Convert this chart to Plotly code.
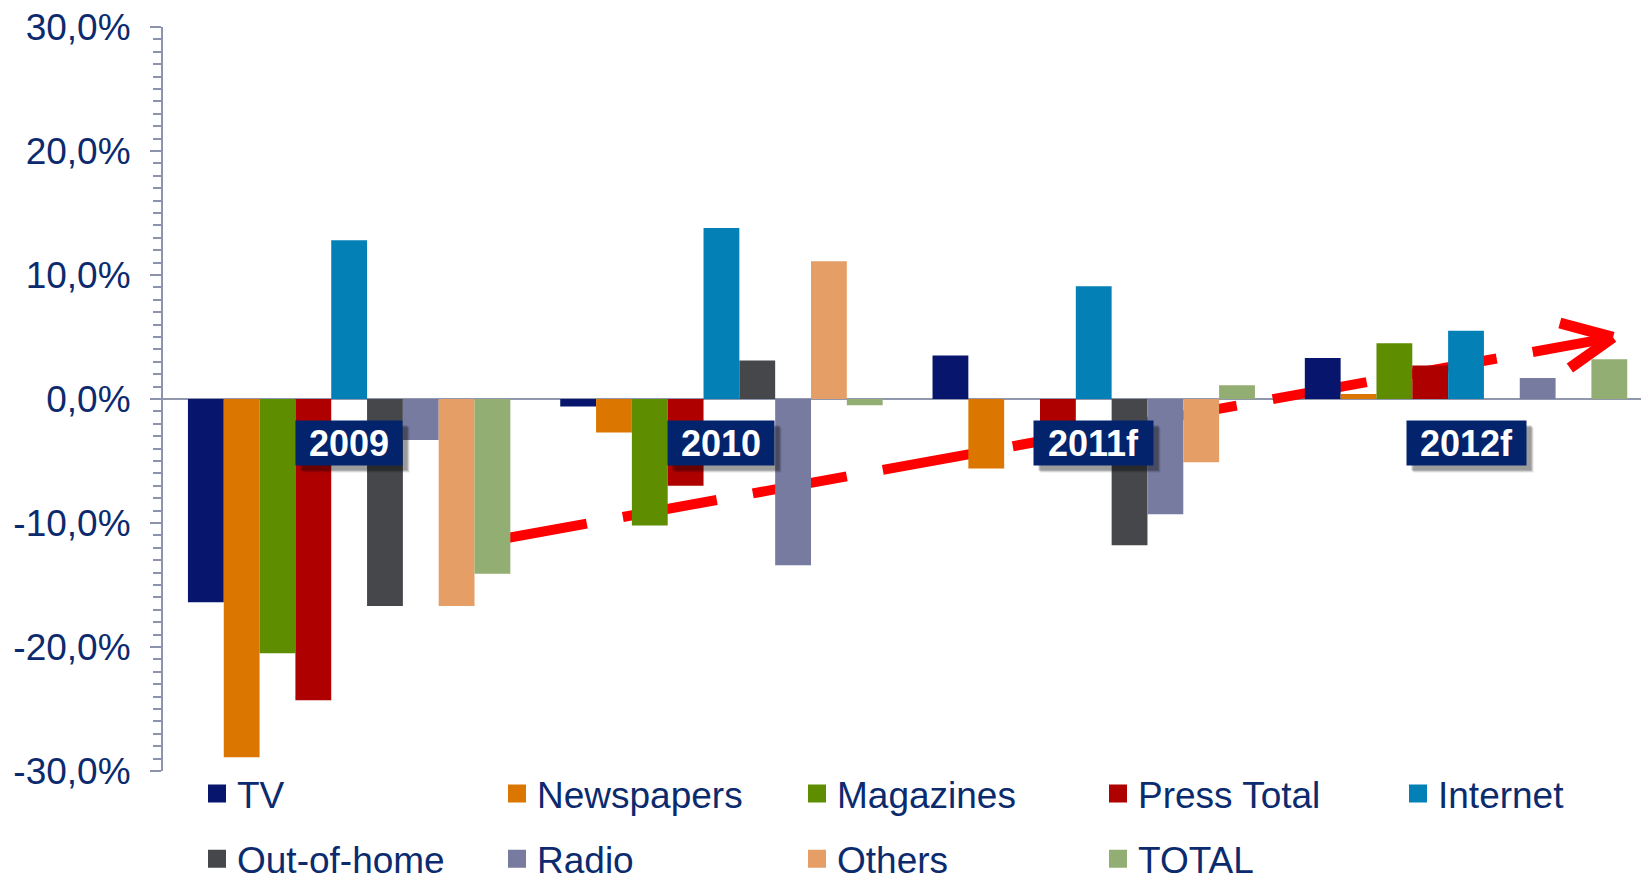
import plotly.graph_objects as go

# ---------------- data ----------------
years = ["2009", "2010", "2011f", "2012f"]
media = ["TV", "Newspapers", "Magazines", "Press Total", "Internet",
         "Out-of-home", "Radio", "Others", "TOTAL"]

tv = [-16.4, -0.6, 3.5, 3.3]
newspapers = [-28.9, -2.7, -5.6, 0.4]
magazines = [-20.5, -10.2, 0.0, 4.5]
press_total = [-24.3, -7.0, -4.0, 2.7]
internet = [12.8, 13.8, 9.1, 5.5]
out_of_home = [-16.7, 3.1, -11.8, 0.0]
radio = [-3.3, -13.4, -9.3, 1.7]
others = [-16.7, 11.1, -5.1, 0.0]
total = [-14.1, -0.5, 1.1, 3.2]

series_values = [tv, newspapers, magazines, press_total, internet,
                 out_of_home, radio, others, total]

tick_vals = [-30, -20, -10, 0, 10, 20, 30]
tick_text = ["-30,0%", "-20,0%", "-10,0%", "0,0%", "10,0%", "20,0%", "30,0%"]

year_label_y = -3.55          # vertical position of the year boxes (in %)
trend_x = [0.386, 3.395]      # dashed trend arrow (category index units)
trend_y = [-11.42, 4.97]
arrow_arm_x = [3.252, 3.279]  # arrow head arm ends
arrow_arm_y = [6.13, 2.50]

# ---------------- style ----------------
colors = ["#07166C", "#DB7700", "#5E8E00", "#AF0000", "#0381B6",
          "#46474A", "#767B9F", "#E59F66", "#93AE73"]
NAVY = "#0B2B6E"
AXIS = "#8E93AD"
FONT = "Liberation Sans, Arial, sans-serif"

fig = go.Figure()

for name, vals, col in zip(media, series_values, colors):
    fig.add_trace(go.Bar(
        x=years, y=vals, name=name, marker=dict(color=col, line=dict(width=0)),
        showlegend=False,
    ))

# legend entries (columns of vertical legends)
legend_of = ["legend", "legend2", "legend3", "legend4", "legend5",
             "legend", "legend2", "legend3", "legend4"]
for i, (name, col) in enumerate(zip(media, colors)):
    fig.add_trace(go.Scatter(
        x=[None], y=[None], mode="markers", name=name,
        marker=dict(symbol="square", size=16, color=col, line=dict(color=col, width=2)),
        legend=legend_of[i], legendgroup=name, showlegend=True,
    ))

# trend dashed line with arrow head
fig.add_shape(type="line", xref="x", yref="y",
              x0=trend_x[0], y0=trend_y[0], x1=trend_x[1], y1=trend_y[1],
              line=dict(color="#FF0000", width=10, dash="95.5px,36.6px"),
              layer="between")
for ax_, ay_ in zip(arrow_arm_x, arrow_arm_y):
    fig.add_shape(type="line", xref="x", yref="y",
                  x0=ax_, y0=ay_, x1=trend_x[1], y1=trend_y[1],
                  line=dict(color="#FF0000", width=11), layer="between")

# year boxes with soft shadow
box_w = [104, 104, 117, 117]
for i, yr in enumerate(years):
    for k, a in [(7, 0.10), (6, 0.15), (5, 0.2)]:
        fig.add_annotation(x=i, y=year_label_y, xref="x", yref="y", text="",
                           showarrow=False, width=box_w[i], height=42,
                           bgcolor="rgba(0,0,0,%.2f)" % a, xshift=k, yshift=-k)
    fig.add_annotation(x=i, y=year_label_y, xref="x", yref="y",
                       text="<b>%s</b>" % yr, showarrow=False,
                       width=box_w[i], height=42, bgcolor="#03246C",
                       font=dict(family=FONT, size=36, color="white"))

leg_common = dict(orientation="v", xanchor="left", yanchor="top",
                  font=dict(family=FONT, size=37, color=NAVY),
                  bgcolor="rgba(0,0,0,0)", borderwidth=0, tracegroupgap=14,
                  itemclick=False, itemdoubleclick=False)
col_x = [197, 497, 797, 1098, 1398]
plot_l, plot_w, plot_top, plot_h = 163, 1478, 27, 744
def px2paper_x(px):
    return (px - plot_l) / plot_w
legend_y = (plot_top + plot_h - 763) / plot_h

layout_legends = {}
for j, key in enumerate(["legend", "legend2", "legend3", "legend4", "legend5"]):
    d = dict(leg_common)
    d.update(x=px2paper_x(col_x[j]), y=legend_y)
    layout_legends[key] = d

fig.update_layout(
    width=1641, height=876,
    margin=dict(l=plot_l, r=0, t=plot_top, b=876 - plot_top - plot_h, autoexpand=False),
    paper_bgcolor="white", plot_bgcolor="white",
    barmode="group", bargap=0.134, bargroupgap=0,
    font=dict(family=FONT, color=NAVY),
    xaxis=dict(type="category", range=[-0.5, 3.47], showticklabels=False,
               showgrid=False, showline=False, zeroline=False, ticks=""),
    yaxis=dict(range=[-30, 30], tickvals=tick_vals, ticktext=tick_text,
               showgrid=False, showline=True, linecolor=AXIS, linewidth=2,
               ticks="outside", ticklen=11, tickwidth=2, tickcolor=AXIS,
               tickfont=dict(family=FONT, size=37, color=NAVY),
               ticklabelstandoff=12,
               minor=dict(dtick=1, ticks="outside", ticklen=8, tickwidth=2,
                          tickcolor=AXIS, showgrid=False),
               zeroline=True, zerolinecolor="#9197AC", zerolinewidth=2),
    **layout_legends,
)

fig.write_html("out.html")
